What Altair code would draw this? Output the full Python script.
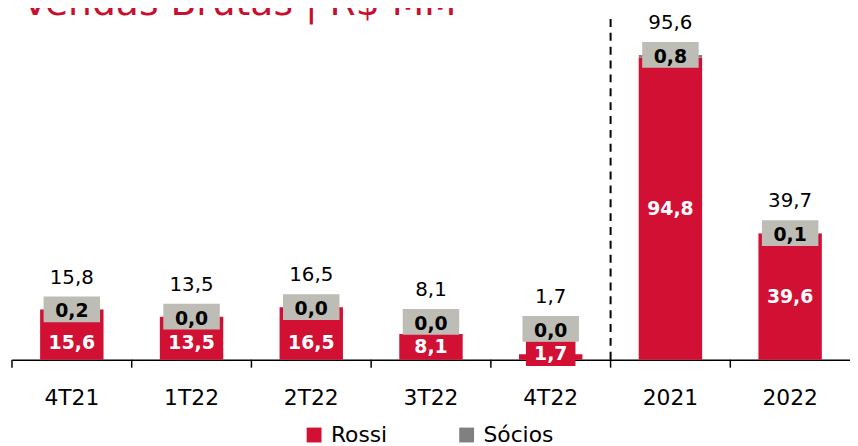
import altair as alt
import pandas as pd

categories = ["4T21", "1T22", "2T22", "3T22", "4T22", "2021", "2022"]
rossi = [15.6, 13.5, 16.5, 8.1, 1.7, 94.8, 39.6]
socios = [0.2, 0.0, 0.0, 0.0, 0.0, 0.8, 0.1]
totals = [15.8, 13.5, 16.5, 8.1, 1.7, 95.6, 39.7]
series = ["Rossi", "Sócios"]

RED = "#D21034"
GRAY = "#808080"
BOX_GRAY = "#BDBDB5"
FONT = "DejaVu Sans"
YMAX = 107.8

long_df = pd.DataFrame(
    [{"cat": c, "serie": "Rossi", "v": r, "ord": 0} for c, r in zip(categories, rossi)]
    + [{"cat": c, "serie": "Sócios", "v": s, "ord": 1} for c, s in zip(categories, socios)]
)
wide_df = pd.DataFrame({"cat": categories, "rossi": rossi, "socios": socios, "total": totals})

xscale = alt.Scale(domain=categories, paddingInner=0, paddingOuter=0)
yscale = alt.Scale(domain=[0, YMAX], nice=False, zero=True)


def X():
    return alt.X("cat:N", scale=xscale, title=None, axis=alt.Axis(labelAngle=0, ticks=False, grid=False))


def Y(field):
    return alt.Y(field, scale=yscale, axis=None, title=None)


bars = alt.Chart(long_df).mark_bar(size=64).encode(
    x=X(),
    y=alt.Y("v:Q", stack="zero", scale=yscale, axis=None, title=None),
    color=alt.Color(
        "serie:N",
        scale=alt.Scale(domain=series, range=[RED, GRAY]),
        legend=alt.Legend(
            title=None,
            orient="none",
            legendX=294,
            legendY=412,
            direction="horizontal",
            symbolType="square",
            symbolSize=225,
            labelFontSize=22,
            labelFont=FONT,
            labelColor="black",
            labelOffset=6,
            columnPadding=69,
        ),
    ),
    order=alt.Order("ord:Q", sort="ascending"),
)

base = alt.Chart(wide_df).transform_calculate(
    redPos="datum.rossi > 20 ? datum.rossi / 2 : max(min(datum.rossi / 2, 5.3), 1.9)"
).transform_calculate(
    grayPos="max(datum.total, datum.redPos + 7.8)"
).transform_calculate(
    rlab="replace(format(datum.rossi, '.1f'), '.', ',')",
    slab="replace(format(datum.socios, '.1f'), '.', ',')",
    tlab="replace(format(datum.total, '.1f'), '.', ',')",
)

ticks = alt.Chart(wide_df).mark_rule(color="black", strokeWidth=1.5, xOffset=-60.4).encode(
    x=X(), y=alt.value(347), y2=alt.value(355)
)

red_box = base.mark_point(
    shape="M-1,-0.5L1,-0.5L1,0.5L-1,0.5Z", size=2500, filled=True, opacity=1,
    strokeWidth=0, color=RED,
).encode(x=X(), y=Y("redPos:Q"))

red_text = base.mark_text(
    font=FONT, fontSize=19, fontWeight="bold", color="white", baseline="middle"
).encode(x=X(), y=Y("redPos:Q"), text="rlab:N")

gray_box = base.mark_point(
    shape="M-1,-0.456L1,-0.456L1,0.456L-1,0.456Z", size=3249, filled=True, opacity=1,
    strokeWidth=0, color=BOX_GRAY,
).encode(x=X(), y=Y("grayPos:Q"))

gray_text = base.mark_text(
    font=FONT, fontSize=19, fontWeight="bold", color="black", baseline="middle", dy=2
).encode(x=X(), y=Y("grayPos:Q"), text="slab:N")

total_text = base.mark_text(
    font=FONT, fontSize=20, color="black", baseline="middle", dy=-32
).encode(x=X(), y=Y("grayPos:Q"), text="tlab:N")

sep_df = pd.DataFrame({"cat": ["2021"], "y0": [0.0], "y1": [YMAX]})
sep = alt.Chart(sep_df).mark_rule(
    color="black", strokeWidth=2, strokeDash=[8, 6], xOffset=-60.4
).encode(x=X(), y=Y("y0:Q"), y2="y1:Q")

chart = alt.layer(sep, ticks, bars, red_box, red_text, gray_box, gray_text, total_text).properties(
    width=846,
    height=347,
    title=alt.TitleParams(
        "Vendas Brutas | R$ MM",
        anchor="start",
        color="#C8102E",
        font=FONT,
        fontSize=38,
        fontWeight="normal",
        offset=0,
        dx=11,
        dy=10,
    ),
    padding={"left": 4, "top": 6, "right": 0, "bottom": 85},
    autosize=alt.AutoSizeParams(type="none"),
).configure_axisX(
    labelFontSize=22,
    labelFont=FONT,
    labelColor="black",
    domainColor="black",
    domainWidth=1.5,
    labelPadding=28,
).configure_view(strokeWidth=0)

chart.save("out.html", embed_options={"renderer": "svg", "actions": False})
